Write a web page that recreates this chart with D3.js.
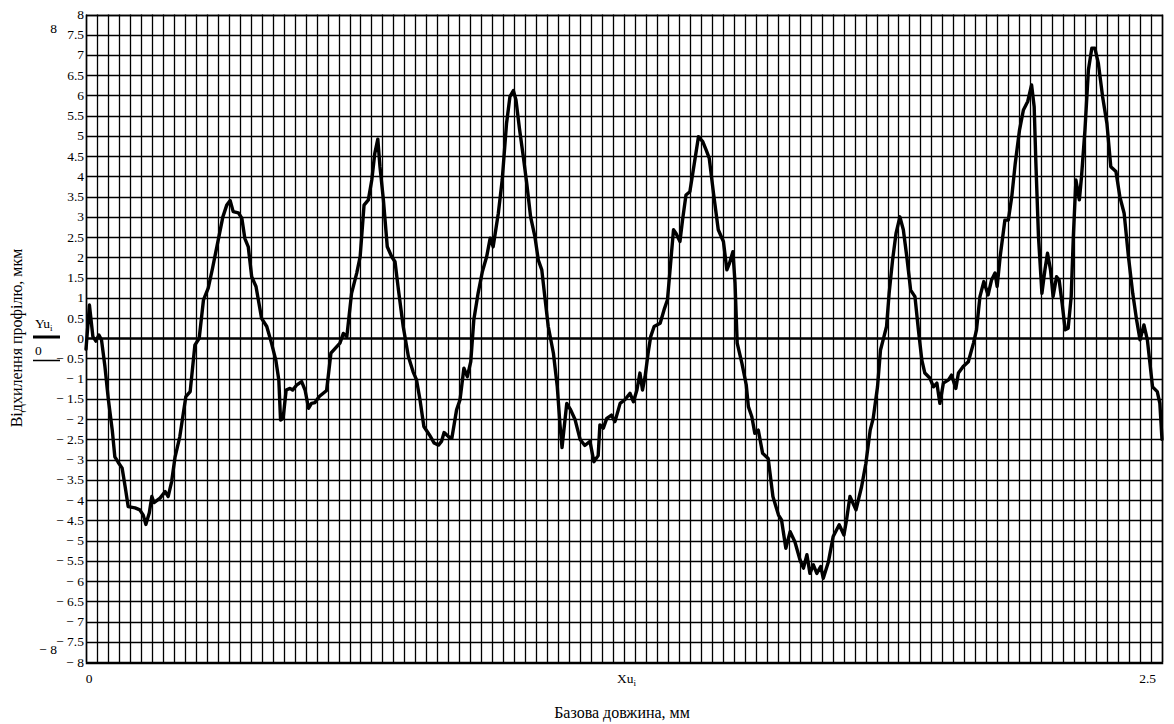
<!DOCTYPE html>
<html><head><meta charset="utf-8">
<script src="https://cdn.jsdelivr.net/npm/d3@7"></script>
<style>
html,body{margin:0;padding:0;background:#fff;}
svg text{font-family:"Liberation Serif","Times New Roman",serif;fill:#000;}
</style></head>
<body><svg id="c" width="1174" height="724"></svg>
<script>
// profile abscissa, mm
const xu = [0.000,0.008,0.016,0.023,0.030,0.036,0.044,0.052,0.061,0.067,0.075,0.084,0.091,0.098,0.114,0.125,0.133,0.139,0.147,0.153,
0.158,0.172,0.184,0.191,0.199,0.207,0.218,0.232,0.242,0.253,0.263,0.273,0.284,0.294,0.304,0.318,0.327,0.335,0.342,0.354,
0.362,0.369,0.377,0.385,0.395,0.408,0.420,0.431,0.441,0.448,0.452,0.458,0.465,0.474,0.480,0.490,0.501,0.509,0.517,0.524,
0.532,0.542,0.559,0.569,0.579,0.590,0.598,0.606,0.617,0.629,0.637,0.646,0.656,0.664,0.671,0.678,0.683,0.691,0.700,0.710,
0.718,0.726,0.737,0.749,0.760,0.768,0.776,0.785,0.798,0.809,0.819,0.826,0.832,0.842,0.850,0.861,0.869,0.878,0.886,0.894,
0.901,0.911,0.921,0.931,0.939,0.946,0.958,0.967,0.977,0.985,0.993,0.999,1.007,1.016,1.024,1.033,1.043,1.051,1.059,1.066,
1.074,1.086,1.095,1.101,1.106,1.117,1.125,1.136,1.148,1.159,1.171,1.180,1.190,1.194,1.202,1.210,1.221,1.229,1.241,1.252,
1.264,1.272,1.280,1.287,1.293,1.299,1.306,1.312,1.320,1.334,1.343,1.351,1.357,1.365,1.371,1.380,1.386,1.394,1.403,1.411,
1.423,1.433,1.441,1.448,1.458,1.469,1.481,1.489,1.495,1.503,1.508,1.513,1.524,1.534,1.539,1.547,1.554,1.562,1.572,1.585,
1.596,1.609,1.616,1.626,1.636,1.647,1.659,1.667,1.675,1.682,1.690,1.698,1.707,1.713,1.725,1.736,1.750,1.761,1.767,1.775,
1.789,1.802,1.812,1.822,1.829,1.839,1.846,1.854,1.860,1.866,1.874,1.882,1.891,1.899,1.907,1.916,1.926,1.934,1.942,1.949,
1.961,1.969,1.977,1.981,1.984,1.992,2.004,2.011,2.021,2.027,2.038,2.050,2.062,2.069,2.077,2.086,2.096,2.104,2.112,2.117,
2.124,2.135,2.143,2.151,2.159,2.169,2.178,2.188,2.197,2.203,2.207,2.213,2.221,2.228,2.234,2.241,2.247,2.255,2.261,2.268,
2.275,2.282,2.289,2.294,2.300,2.308,2.313,2.321,2.329,2.337,2.344,2.352,2.362,2.372,2.381,2.393,2.402,2.412,2.422,2.432,
2.441,2.449,2.458,2.466,2.472,2.478,2.489,2.495,2.500];
// profile deviation, µm
const yu = [-0.27,0.82,0.04,-0.07,0.08,-0.04,-0.70,-1.52,-2.27,-2.93,-3.07,-3.21,-3.67,-4.16,-4.19,-4.24,-4.37,-4.60,-4.32,-3.91,
-4.06,-3.95,-3.79,-3.91,-3.54,-2.93,-2.43,-1.44,-1.32,-0.17,0.00,0.95,1.24,1.73,2.26,3.00,3.29,3.40,3.13,3.10,
2.97,2.47,2.26,1.52,1.28,0.49,0.29,-0.12,-0.54,-1.03,-2.02,-1.98,-1.28,-1.24,-1.28,-1.15,-1.07,-1.28,-1.73,-1.61,
-1.59,-1.44,-1.29,-0.37,-0.25,-0.12,0.12,0.04,1.11,1.61,2.02,3.29,3.42,3.91,4.57,4.92,4.24,3.42,2.26,2.02,
1.89,1.19,0.29,-0.45,-0.83,-1.03,-1.52,-2.18,-2.39,-2.59,-2.64,-2.55,-2.33,-2.43,-2.47,-1.77,-1.52,-0.74,-0.95,-0.58,
0.45,1.11,1.65,2.02,2.47,2.26,3.09,3.91,5.30,5.97,6.12,5.89,5.19,4.49,3.83,3.00,2.51,1.93,1.69,1.03,
0.29,-0.37,-1.20,-2.10,-2.70,-1.61,-1.75,-2.00,-2.50,-2.65,-2.55,-3.05,-2.90,-2.14,-2.22,-1.98,-1.90,-2.06,-1.61,-1.52,
-1.36,-1.57,-1.28,-0.86,-1.28,-0.95,-0.37,0.04,0.29,0.37,0.70,0.95,1.69,2.68,2.59,2.39,2.92,3.54,3.62,4.16,
4.98,4.86,4.65,4.45,3.58,2.68,2.39,1.69,1.85,2.14,1.36,-0.12,-0.62,-1.15,-1.69,-1.94,-2.35,-2.27,-2.84,-2.97,
-3.91,-4.37,-4.49,-5.19,-4.78,-5.03,-5.48,-5.68,-5.35,-5.81,-5.60,-5.81,-5.64,-5.93,-5.52,-4.90,-4.61,-4.86,-4.49,-3.91,
-4.24,-3.67,-3.09,-2.27,-1.98,-1.20,-0.29,0.04,0.29,1.11,1.93,2.59,3.00,2.68,2.02,1.19,1.03,0.21,-0.54,-0.86,
-0.99,-1.20,-1.11,-1.40,-1.61,-1.11,-1.03,-0.91,-1.24,-0.86,-0.70,-0.58,-0.12,0.21,1.03,1.40,1.07,1.44,1.61,1.28,
2.02,2.92,2.92,3.50,4.32,5.15,5.64,5.85,6.26,5.72,4.32,2.51,1.11,1.69,2.10,1.69,1.03,1.52,1.44,0.86,
0.21,0.25,1.03,2.51,3.91,3.42,3.99,5.15,6.63,7.17,7.17,6.80,5.97,5.31,4.24,4.12,3.50,3.09,2.02,1.11,
0.45,-0.04,0.33,-0.04,-0.62,-1.20,-1.32,-1.61,-2.50];
// axis tick values
const yTicks = d3.range(-16, 17).map(k => k / 2);
const xLimits = [0, 2.5];
const yLimits = [-8, 8];
const xGridCount = 98;
const yTitle = "Відхилення профілю, мкм";
const xTitle = "Базова довжина, мм";

const svg = d3.select("#c");
const L = 86, R = 1162, T = 14.5, B = 662;
const x = d3.scaleLinear().domain(xLimits).range([L, R]);
const y = d3.scaleLinear().domain(yLimits).range([B, T]);

const g = svg.append("g");
// vertical grid
const xGrid = d3.range(0, xGridCount + 1).map(i => xLimits[0] + (xLimits[1] - xLimits[0]) * i / xGridCount);
g.selectAll("line.vg").data(xGrid).enter().append("line")
  .attr("x1", d => Math.round(x(d)) + 0.5).attr("x2", d => Math.round(x(d)) + 0.5)
  .attr("y1", T).attr("y2", B).attr("stroke", "#000").attr("stroke-width", 1.3);
// horizontal grid
g.selectAll("line.hg").data(yTicks).enter().append("line")
  .attr("y1", d => Math.round(y(d)) + 0.5).attr("y2", d => Math.round(y(d)) + 0.5)
  .attr("x1", L).attr("x2", R).attr("stroke", "#000")
  .attr("stroke-width", d => d === 0 ? 2.4 : 1.3);
// border
g.append("rect").attr("x", L + 0.5).attr("y", Math.round(T) + 0.5)
  .attr("width", Math.round(R - L)).attr("height", Math.round(B - T))
  .attr("fill", "none").attr("stroke", "#000").attr("stroke-width", 1.5);

// y tick labels
const fmt = d => d < 0 ? "\u2212 " + String(-d) : String(d);
svg.selectAll("text.yt").data(yTicks).enter().append("text")
  .attr("x", L - 2).attr("y", d => y(d) + 4.5)
  .attr("text-anchor", "end").attr("font-size", 13.5).text(fmt);

// limit labels
svg.append("text").attr("x", 57).attr("y", 33).attr("text-anchor", "end").attr("font-size", 13.5).text(fmt(yLimits[1]));
svg.append("text").attr("x", 57).attr("y", 654).attr("text-anchor", "end").attr("font-size", 13.5).text(fmt(yLimits[0]));
svg.append("text").attr("x", x(xLimits[0]) + 3).attr("y", 683).attr("text-anchor", "middle").attr("font-size", 13.5).text(String(xLimits[0]));
svg.append("text").attr("x", x(xLimits[1]) - 6).attr("y", 683).attr("text-anchor", "end").attr("font-size", 13.5).text(String(xLimits[1]));

// legend
const ly = svg.append("text").attr("x", 35).attr("y", 328).attr("font-size", 13.5);
ly.append("tspan").text("Yu");
ly.append("tspan").attr("font-size", 9).attr("dy", 3).text("i");
svg.append("line").attr("x1", 33).attr("x2", 60).attr("y1", 337).attr("y2", 337).attr("stroke", "#000").attr("stroke-width", 3);
svg.append("text").attr("x", 35).attr("y", 355).attr("font-size", 13.5).text("0");
svg.append("line").attr("x1", 33).attr("x2", 60).attr("y1", 360.5).attr("y2", 360.5).attr("stroke", "#000").attr("stroke-width", 1.5);

// x variable label
const lx = svg.append("text").attr("x", 617).attr("y", 683).attr("font-size", 13.5);
lx.append("tspan").text("Xu");
lx.append("tspan").attr("font-size", 9).attr("dy", 3).text("i");

// titles
svg.append("text").attr("x", 622).attr("y", 718).attr("text-anchor", "middle").attr("font-size", 16).text(xTitle);
svg.append("text").attr("transform", "translate(22,338) rotate(-90)").attr("text-anchor", "middle").attr("font-size", 16).text(yTitle);

// curve
const line = d3.line().x((d, i) => x(xu[i])).y(d => y(d));
svg.append("path").datum(yu).attr("d", line)
  .attr("fill", "none").attr("stroke", "#000").attr("stroke-width", 3.4)
  .attr("stroke-linejoin", "round").attr("stroke-linecap", "round");
</script></body></html>
